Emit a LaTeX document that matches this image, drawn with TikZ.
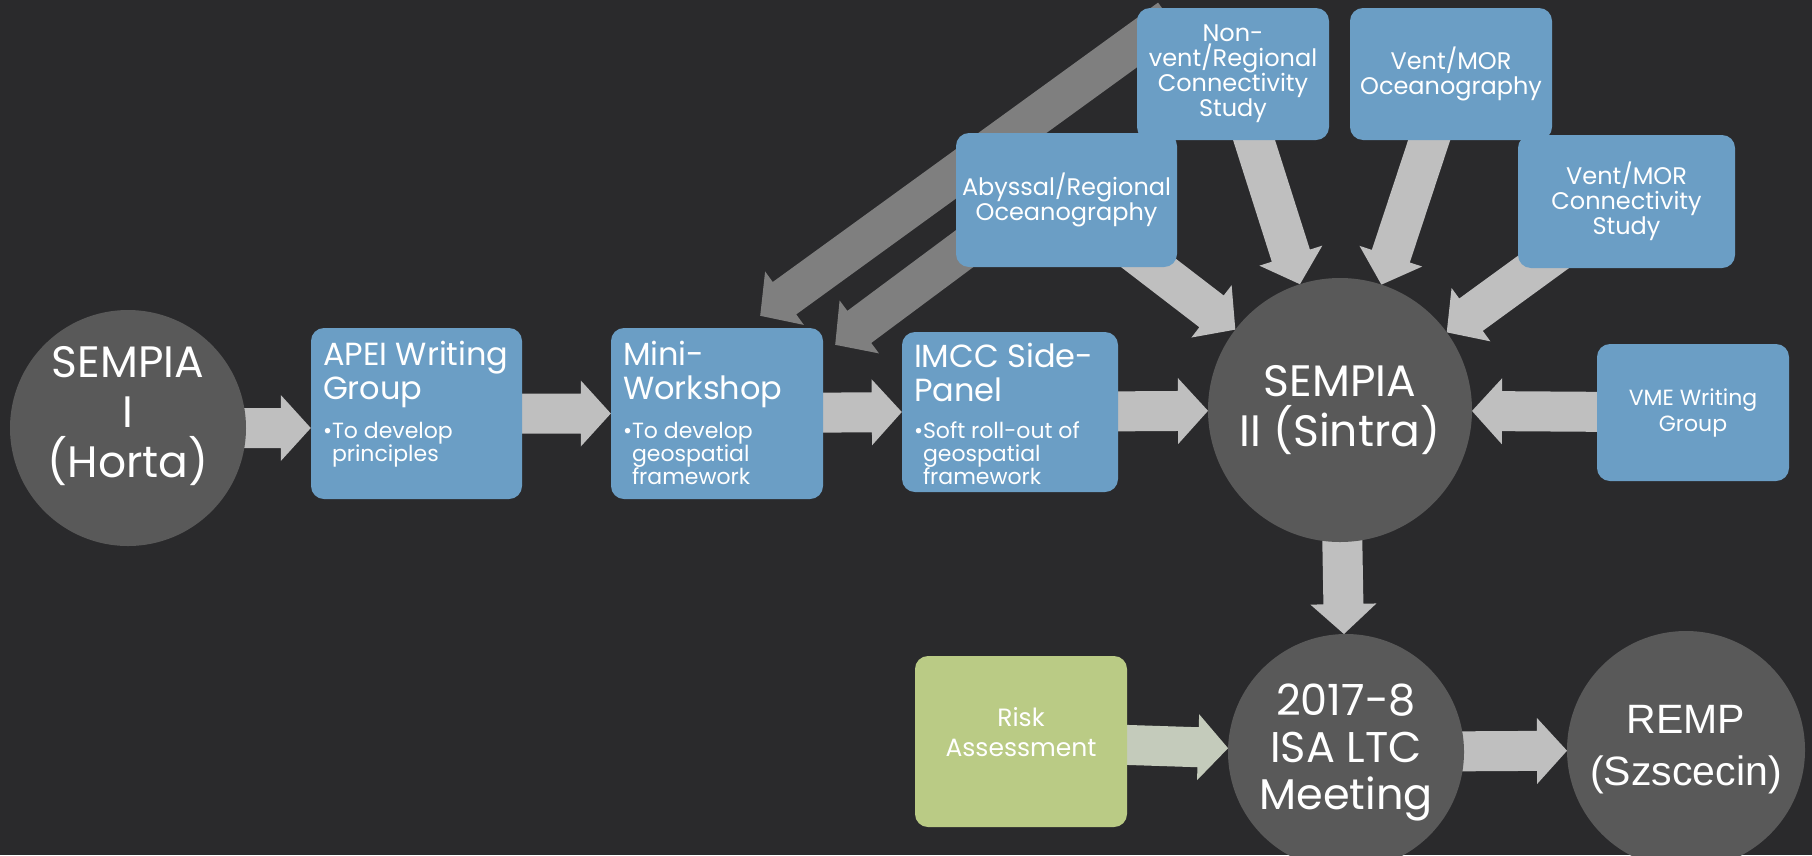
\documentclass[tikz,border=0pt]{standalone}
\usepackage{fontspec}
\setmainfont{Poppins}
\newfontfamily\arialfont{Liberation Sans}
\usetikzlibrary{calc,positioning}

\definecolor{slide}{RGB}{42,42,44}
\definecolor{disc}{RGB}{89,89,89}
\definecolor{boxblue}{RGB}{107,158,197}
\definecolor{boxgreen}{RGB}{186,203,133}
\definecolor{arrlight}{RGB}{191,191,191}
\definecolor{arrdark}{RGB}{127,127,127}
\definecolor{arrgreen}{RGB}{196,203,187}

\pgfdeclarelayer{back}
\pgfdeclarelayer{links}
\pgfsetlayers{back,links,main}

% Block arrow sizes
\def\arrbody{20pt}
\def\arrwing{33pt}
\def\arrhead{30pt}

% Block arrow: colour, start, tip
\newcommand{\blockarrow}[3]{%
  \coordinate (ba-s) at #2;
  \coordinate (ba-t) at #3;
  \coordinate (ba-h) at ($(ba-t)!\arrhead!(ba-s)$);
  \fill[#1] ($(ba-s)!\arrbody!90:(ba-t)$) -- ($(ba-h)!\arrbody!90:(ba-t)$)
    -- ($(ba-h)!\arrwing!90:(ba-t)$) -- (ba-t) -- ($(ba-h)!\arrwing!-90:(ba-t)$)
    -- ($(ba-h)!\arrbody!-90:(ba-t)$) -- ($(ba-s)!\arrbody!-90:(ba-t)$) -- cycle;}

\tikzset{
  meeting/.style={circle, fill=disc, inner sep=0pt, text=white, align=center,
    font=\fontsize{44}{50}\selectfont},
  stagebox/.style={rectangle, rounded corners=13pt, fill=boxblue, inner sep=0pt},
  stagetitle/.style={inner sep=0pt, text=white, align=left, font=\fontsize{32}{34}\selectfont},
  stagenote/.style={inner sep=0pt, text=white, align=left, font=\fontsize{22}{23}\selectfont},
  studybox/.style={rectangle, rounded corners=13pt, fill=boxblue, inner sep=0pt, text=white,
    align=center, font=\fontsize{24}{25}\selectfont}
}

\begin{document}
\begin{tikzpicture}[x=1pt, y=-1pt]
    % Slide background
    \begin{pgfonlayer}{back}
        \fill[slide] (0,0) rectangle (1812,855);
    \end{pgfonlayer}
    \useasboundingbox (0,0) rectangle (1812,855);

    % Meetings
    \node[meeting, minimum size=236pt, text depth=33pt] (semI) at (128,428) {SEMPIA\\I\\(Horta)};
    \node[meeting, minimum size=264pt] (semII) at (1340,410) {SEMPIA\\II (Sintra)};
    \node[meeting, minimum size=236pt, font=\fontsize{43}{47}\selectfont] (isa) at (1346,752) {2017-8\\ISA LTC\\Meeting};
    \node[meeting, minimum size=238pt, font=\arialfont\fontsize{41}{52}\selectfont] (remp) at (1686,750) {REMP\\(Szscecin)};

    % Main row of stages
    \node[stagebox, minimum width=211pt, minimum height=171pt] (apei) at (416.5,413.5) {};
    \node[stagetitle, below right=13pt and 12pt of apei.north west] (apeihead) {APEI Writing\\Group};
    \node[stagenote, below right=94pt and 12pt of apei.north west] (apeinote) {\textbullet To develop\\\hspace*{9pt}principles};

    \node[stagebox, minimum width=212pt, minimum height=171pt] (mini) at (717,413.5) {};
    \node[stagetitle, below right=13pt and 12pt of mini.north west] (minihead) {Mini-\\Workshop};
    \node[stagenote, below right=94pt and 12pt of mini.north west] (mininote) {\textbullet To develop\\\hspace*{9pt}geospatial\\\hspace*{9pt}framework};

    \node[stagebox, minimum width=216pt, minimum height=160pt] (imcc) at (1010,412) {};
    \node[stagetitle, below right=11pt and 12pt of imcc.north west] (imcchead) {IMCC Side-\\Panel};
    \node[stagenote, below right=90pt and 12pt of imcc.north west] (imccnote) {\textbullet Soft roll-out of\\\hspace*{9pt}geospatial\\\hspace*{9pt}framework};

    % Study boxes
    \node[studybox, minimum width=192pt, minimum height=132pt] (nonvent) at (1233,74) {Non-\\vent/Regional\\Connectivity\\Study};
    \node[studybox, minimum width=202pt, minimum height=132pt] (ventocean) at (1451,74) {Vent/MOR\\Oceanography};
    \node[studybox, minimum width=221pt, minimum height=134pt] (abyssal) at (1066.5,200) {Abyssal/Regional\\Oceanography};
    \node[studybox, minimum width=217pt, minimum height=133pt] (ventconn) at (1626.5,201.5) {Vent/MOR\\Connectivity\\Study};
    \node[studybox, minimum width=192pt, minimum height=137pt, font=\fontsize{22}{26}\selectfont] (vme) at (1693,412.5) {VME Writing\\Group};
    \node[studybox, fill=boxgreen, minimum width=212pt, minimum height=171pt, text depth=20pt, font=\fontsize{25}{30}\selectfont] (risk) at (1021,741.5) {Risk\\Assessment};

    % Arrows behind the boxes
    \begin{pgfonlayer}{links}
        \coordinate (apeiin) at (apei.west |- semI);
        \blockarrow{arrlight}{(semI)}{(apeiin)}
        \blockarrow{arrlight}{(apei)}{(mini.west)}
        \blockarrow{arrlight}{(mini)}{(imcc.west)}
        \blockarrow{arrlight}{(imcc)}{($(semII)!132pt!(imcc)$)}
        \blockarrow{arrlight}{(vme)}{($(semII)!132pt!(vme)$)}

        % Studies feeding SEMPIA II
        \blockarrow{arrlight}{(abyssal)}{($(semII)!132pt!(abyssal)$)}
        \blockarrow{arrlight}{(nonvent)}{($(semII)!132pt!(nonvent)$)}
        \blockarrow{arrlight}{(ventocean)}{($(semII)!132pt!(ventocean)$)}
        \blockarrow{arrlight}{(ventconn)}{($(semII)!132pt!(ventconn)$)}

        % Lower row
        \blockarrow{arrlight}{(semII)}{($(isa)!118pt!(semII)$)}
        \blockarrow{arrgreen}{(risk)}{($(isa)!118pt!(risk)$)}
        \blockarrow{arrlight}{(isa)}{($(remp)!119pt!(isa)$)}

        % Feedback to the mini-workshop
        \coordinate (nvout) at ($(nonvent.north west)+(33,11)$);
        \coordinate (minitop) at ($(mini.north east)+(-63,-12)$);
        \coordinate (about) at ($(abyssal.north west)+(57,80)$);
        \coordinate (miniside) at ($(mini.north east)+(12,17)$);
        \blockarrow{arrdark}{(nvout)}{(minitop)}
        \blockarrow{arrdark}{(about)}{(miniside)}
    \end{pgfonlayer}
\end{tikzpicture}
\end{document}
